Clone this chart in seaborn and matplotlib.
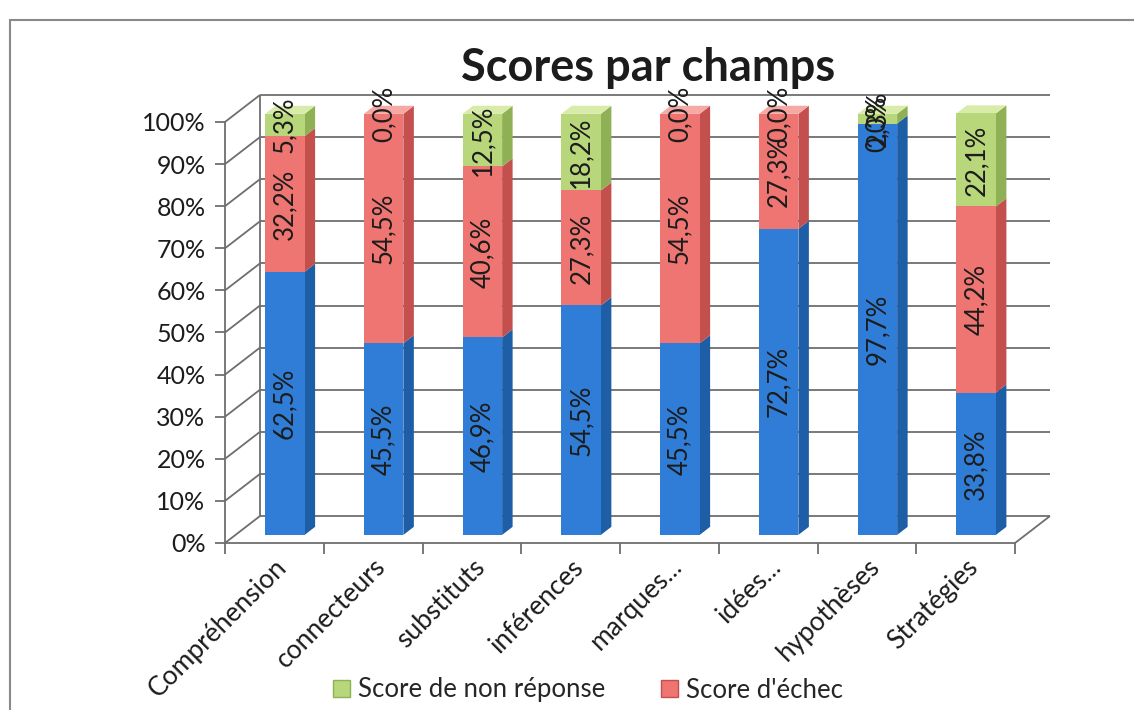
import matplotlib
matplotlib.use("Agg")
import matplotlib.pyplot as plt
import numpy as np
import pandas as pd
import seaborn as sns
from matplotlib.patches import Polygon, Patch
from matplotlib.lines import Line2D

# ---- data -------------------------------------------------------------
champs = ["Compréhension", "connecteurs", "substituts", "inférences",
          "marques...", "idées...", "hypothèses", "Stratégies"]
reussite = [62.5, 45.5, 46.9, 54.5, 45.5, 72.7, 97.7, 33.8]
echec = [32.2, 54.5, 40.6, 27.3, 54.5, 27.3, 0.0, 44.2]
non_reponse = [5.3, 0.0, 12.5, 18.2, 0.0, 0.0, 2.3, 22.1]
y_ticks = list(range(0, 101, 10))
legend_labels = ["Score de non réponse", "Score d'échec"]
title = "Scores par champs"

# ---- style ------------------------------------------------------------
sns.set_style("white")
plt.rcParams["font.family"] = ["Lato", "DejaVu Sans"]

BLUE, BLUE_SIDE, BLUE_TOP = "#2F7DD7", "#1E5EA6", "#6FA8E8"
RED, RED_SIDE, RED_TOP = "#EE7571", "#C4504D", "#F6A8A4"
GREEN, GREEN_SIDE, GREEN_TOP = "#B8D77B", "#8FB055", "#D8EBA8"
GRID = "#6E6E6E"
TXT = "#1C1C1C"

df = pd.DataFrame({"champ": champs, "reussite": reussite,
                   "echec": echec, "non_reponse": non_reponse})
df["c1"] = df["reussite"]
df["c2"] = df["c1"] + df["echec"]
df["c3"] = df["c2"] + df["non_reponse"]

# pseudo-3D geometry (data units): depth offset of the back wall
DX, DY = 0.354, 6.4
ZF, ZB = 0.30, 0.60        # front / back depth of the bars
W = 0.40                   # bar width
x0 = -0.5 - ZF * DX        # front-plane left edge
y0 = -ZF * DY              # front-plane 0 %
n = len(champs)

fig = plt.figure(figsize=(11.34, 7.10), dpi=100)
ax = fig.add_axes([225 / 1134, (710 - 543) / 710,
                   (1050 - 225) / 1134, (543 - 95) / 710])

# ---- walls and floor ----------------------------------------------------
lk = dict(color=GRID, lw=1.3, zorder=1, clip_on=False, solid_capstyle="butt")
for p in y_ticks:
    ax.plot([x0 + DX, x0 + n + DX], [y0 + DY + p] * 2, **lk)
    ax.plot([x0, x0 + DX], [y0 + p, y0 + DY + p], **lk)
ax.plot([x0 + DX] * 2, [y0 + DY, y0 + DY + 100], **lk)
ax.plot([x0, x0], [y0, y0 + 100], **lk)
ax.plot([x0, x0 + n], [y0, y0], **lk)
ax.plot([x0 + n, x0 + n + DX], [y0, y0 + DY], **lk)

# ---- bars: front faces (seaborn), drawn tallest first -----------------
for col, c in [("c3", GREEN), ("c2", RED), ("c1", BLUE)]:
    sns.barplot(data=df, x="champ", y=col, color=c, saturation=1,
                width=W, ax=ax, zorder=3, linewidth=0)

# side and top faces
ddx, ddy = (ZB - ZF) * DX, (ZB - ZF) * DY
seg_cols = [("reussite", BLUE_SIDE, BLUE_TOP),
            ("echec", RED_SIDE, RED_TOP),
            ("non_reponse", GREEN_SIDE, GREEN_TOP)]
for i, row in df.iterrows():
    xr = i + W / 2
    bottom = 0.0
    top_color = None
    for name, side, topc in seg_cols:
        v = row[name]
        if v > 0:
            ax.add_patch(Polygon([(xr, bottom), (xr + ddx, bottom + ddy),
                                  (xr + ddx, bottom + v + ddy), (xr, bottom + v)],
                                 closed=True, facecolor=side, lw=0, zorder=2))
            top_color = topc
        bottom += v
    T = bottom
    ax.add_patch(Polygon([(i - W / 2, T), (i + W / 2, T),
                          (i + W / 2 + ddx, T + ddy), (i - W / 2 + ddx, T + ddy)],
                         closed=True, facecolor=top_color, lw=0, zorder=2))

# value labels
for i, row in df.iterrows():
    bottom = 0.0
    for name in ["reussite", "echec", "non_reponse"]:
        v = row[name]
        ax.text(i, bottom + v / 2, f"{v:.1f}%".replace(".", ","),
                rotation=90, ha="center", va="center", fontsize=18.5,
                color=TXT, zorder=5)
        bottom += v

# ---- axes -------------------------------------------------------------
ax.set_xlim(x0, x0 + n + DX)
ax.set_ylim(y0, y0 + 100 + DY)
for s in ax.spines.values():
    s.set_visible(False)
ax.set_xlabel("")
ax.set_ylabel("")
ax.set_yticks([y0 + p for p in y_ticks], labels=[f"{p}%" for p in y_ticks])
ax.tick_params(axis="y", length=7, width=1.3, color=GRID, direction="out",
               labelsize=18, labelcolor=TXT, pad=7, left=True)
centers = [x0 + k + 0.5 for k in range(n)]
ax.set_xticks(centers, labels=champs)
plt.setp(ax.get_xticklabels(), rotation=45, ha="right",
         rotation_mode="anchor", fontsize=19, color=TXT)
ax.tick_params(axis="x", which="major", length=0, pad=8)
ax.set_xticks([x0 + k for k in range(n + 1)], minor=True)
ax.tick_params(axis="x", which="minor", length=8, width=1.3, color=GRID,
               direction="out", bottom=True)

# ---- title, legend, frame --------------------------------------------
fig.text(648 / 1134, 1 - 68 / 710, title, ha="center", va="center",
         fontsize=32.5, fontweight="bold", color=TXT)
handles = [Patch(facecolor=GREEN, edgecolor=GREEN_SIDE),
           Patch(facecolor=RED, edgecolor=RED_SIDE)]
fig.legend(handles, legend_labels, loc="center",
           bbox_to_anchor=(588 / 1134, 1 - 690 / 710), ncol=2, frameon=False,
           fontsize=18.5, handlelength=0.65, handleheight=0.65,
           columnspacing=2.2, handletextpad=0.3)
fig.add_artist(Line2D([10 / 1134, 10 / 1134], [0, 1 - 20 / 710],
                      transform=fig.transFigure, color="#8A8A8A", lw=1.5))
fig.add_artist(Line2D([10 / 1134, 1], [1 - 20 / 710, 1 - 20 / 710],
                      transform=fig.transFigure, color="#8A8A8A", lw=1.5))

fig.savefig("out.png", dpi=100, facecolor="white")
